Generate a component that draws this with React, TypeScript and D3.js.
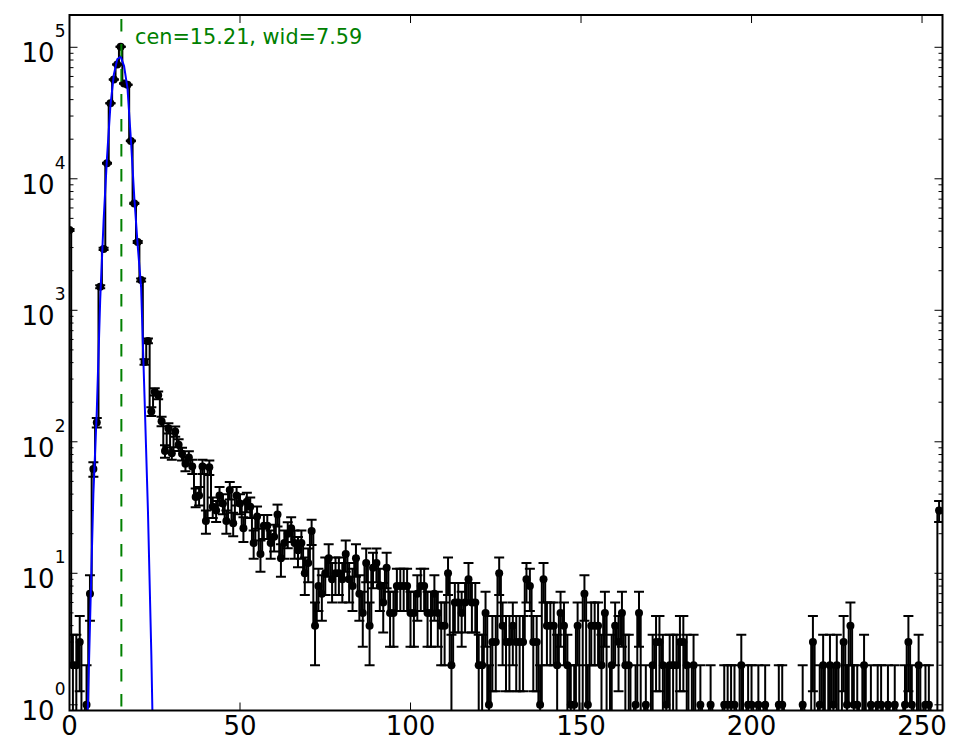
import React from 'react';
import * as d3 from 'd3';

// counts per channel (0..255)
const counts: number[] = [
  4080, 2, 2, 3, 0, 1, 7, 62, 140, 1510, 2930, 13100, 37500, 57000, 74000, 101000,
  53000, 52000, 19400, 6500, 3300, 1700, 405, 585, 170, 240, 226, 143, 85, 127, 82, 120,
  95, 81, 68, 76, 65, 38, 39, 65, 25, 64, 32, 30, 39, 34, 25, 43,
  24, 39, 34, 22, 35, 32, 17, 27, 14, 23, 23, 17, 19, 28, 13, 17,
  20, 22, 17, 15, 17, 10, 12, 21, 4, 8, 7, 10, 13, 9, 10, 10,
  9, 14, 9, 8, 13, 7, 5, 12, 4, 11, 12, 8, 6, 11, 5, 5,
  8, 8, 8, 8, 5, 5, 7, 8, 8, 5, 5, 7, 5, 4, 4, 10,
  2, 6, 6, 5, 6, 9, 6, 6, 2, 2, 5, 1, 3, 3, 10, 4,
  3, 3, 4, 3, 3, 3, 9, 8, 3, 3, 1, 9, 4, 4, 4, 2,
  5, 4, 2, 1, 1, 4, 0, 7, 1, 4, 4, 4, 2, 5, 0, 2,
  4, 3, 5, 2, 2, 0, 1, 5, 0, 1, 0, 2, 3, 3, 2, 1,
  2, 2, 2, 3, 3, 2, 0, 2, 0, 1, 0, 0, 1, 0, 0, 0,
  1, 1, 1, 1, 0, 2, 0, 1, 1, 0, 1, 0, 1, 0, 0, 0,
  1, 1, 0, 0, 0, 0, 0, 1, 0, 0, 3, 0, 1, 2, 0, 2,
  1, 2, 0, 3, 1, 4, 1, 1, 0, 2, 0, 1, 0, 1, 1, 0,
  1, 0, 1, 0, 0, 1, 3, 1, 0, 2, 0, 1, 1, 0, 0, 30,
];

// gaussian fit curve as drawn (blue)
const fitBins: number[] = [4, 5, 6, 7, 8, 9, 10, 11, 12, 13, 14, 15, 16, 17, 18, 19, 20, 21, 22, 23, 24, 25, 26];
const fitValues: number[] = [
  0.02, 0.4, 4, 40, 170, 1200, 4800, 14500, 36000, 62000, 81000, 85000,
  72000, 49000, 20000, 7200, 3100, 1500, 220, 30, 2.4, 0.1, 0.002,
];

const cen = 15.21;
const wid = 7.59;

const xTicks: number[] = [0, 50, 100, 150, 200, 250];
const yDecades: number[] = [0, 1, 2, 3, 4, 5];
const xDomain: [number, number] = [0, 256];
const yDomain: [number, number] = [0.905, 176000];

const W = 965;
const H = 756;
const margin = { left: 69.5, right: 22.5, top: 15, bottom: 45.5 };
const FONT = '"DejaVu Sans", Verdana, sans-serif';

interface Pt { bin: number; c: number; }

const App = () => {
  const L = margin.left;
  const R = W - margin.right;
  const T = margin.top;
  const B = H - margin.bottom;

  const x = d3.scaleLinear().domain(xDomain).range([L, R]);
  const y = d3.scaleLog().domain(yDomain).range([B, T]);
  // non-positive values get clipped below the axis, like matplotlib's log 'clip'
  const yPos = (v: number) => (v > 0 ? y(v) : B + 60);

  const pts: Pt[] = counts.map((c, i) => ({ bin: i, c }));

  const stepLine = d3.line<Pt>()
    .x(d => x(d.bin))
    .y(d => yPos(d.c))
    .curve(d3.curveStep);

  const fitLine = d3.line<number>()
    .x((d, i) => x(fitBins[i]))
    .y(d => yPos(d));

  const minorTicks: number[] = [];
  yDecades.forEach(k => {
    for (let m = 2; m <= 9; m++) {
      const v = m * Math.pow(10, k);
      if (v > yDomain[0] && v < yDomain[1]) minorTicks.push(v);
    }
  });

  const shown = pts.filter(d => d.c > 0);
  const capW = 5;

  return (
    <svg width={W} height={H} style={{ position: 'absolute', left: 0, top: 0, background: '#fff' }}>
      <defs>
        <clipPath id="plot-clip">
          <rect x={L} y={T} width={R - L} height={B - T} />
        </clipPath>
      </defs>
      <rect x={0} y={0} width={W} height={H} fill="#fff" />

      <g clipPath="url(#plot-clip)">
        {/* error bars */}
        <g stroke="#000" strokeWidth={2} fill="none">
          {shown.map(d => {
            const e = Math.sqrt(d.c);
            const lo = d.c - e;
            const hi = d.c + e;
            const cx = x(d.bin);
            return (
              <g key={'e' + d.bin}>
                <line x1={cx} x2={cx} y1={yPos(lo)} y2={yPos(hi)} />
                <line x1={cx - capW} x2={cx + capW} y1={yPos(hi)} y2={yPos(hi)} />
                {lo > 0 && <line x1={cx - capW} x2={cx + capW} y1={yPos(lo)} y2={yPos(lo)} />}
              </g>
            );
          })}
        </g>

        {/* step line */}
        <path d={stepLine(pts) || ''} fill="none" stroke="#000" strokeWidth={2} strokeLinejoin="miter" />

        {/* markers */}
        {shown.map(d => (
          <circle key={'m' + d.bin} cx={x(d.bin)} cy={yPos(d.c)} r={4} fill="#000" />
        ))}

        {/* gaussian fit */}
        <path d={fitLine(fitValues) || ''} fill="none" stroke="#0000ff" strokeWidth={2} />

        {/* fitted centre */}
        <line x1={x(cen)} x2={x(cen)} y1={B} y2={T} stroke="#008000" strokeWidth={2}
          strokeDasharray="12.5 12.5" strokeDashoffset={21} />
      </g>

      <text x={x(cen + 4)} y={y(d3.max(counts) as number) - 3} fill="#008000"
        fontFamily={FONT} fontSize={20.8}>
        {`cen=${cen.toFixed(2)}, wid=${wid.toFixed(2)}`}
      </text>

      {/* ticks */}
      <g stroke="#000" strokeWidth={1}>
        {xTicks.map(t => (
          <g key={'xt' + t}>
            <line x1={x(t)} x2={x(t)} y1={B} y2={B - 8} />
            <line x1={x(t)} x2={x(t)} y1={T} y2={T + 8} />
          </g>
        ))}
        {yDecades.map(k => {
          const yy = y(Math.pow(10, k));
          return (
            <g key={'yt' + k}>
              <line x1={L} x2={L + 8} y1={yy} y2={yy} />
              <line x1={R} x2={R - 8} y1={yy} y2={yy} />
            </g>
          );
        })}
        {minorTicks.map(v => (
          <g key={'ym' + v}>
            <line x1={L} x2={L + 4} y1={y(v)} y2={y(v)} />
            <line x1={R} x2={R - 4} y1={y(v)} y2={y(v)} />
          </g>
        ))}
      </g>

      {/* frame */}
      <rect x={L} y={T} width={R - L} height={B - T} fill="none" stroke="#000" strokeWidth={2} />

      {/* tick labels */}
      <g fontFamily={FONT} fill="#000">
        {xTicks.map(t => (
          <text key={'xl' + t} x={x(t)} y={B + 24.5} textAnchor="middle" fontSize={26}>{t}</text>
        ))}
        {yDecades.map(k => (
          <text key={'yl' + k} x={L - 4} y={y(Math.pow(10, k)) + 15} textAnchor="end" fontSize={26}>
            10<tspan dy={-25} fontSize={17}>{k}</tspan>
          </text>
        ))}
      </g>
    </svg>
  );
};

export default App;
